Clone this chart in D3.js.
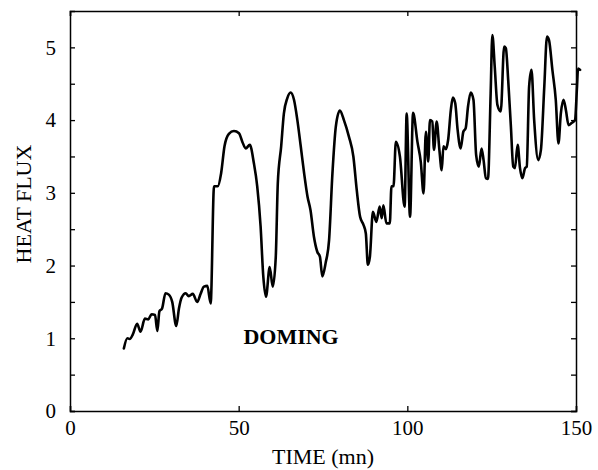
<!DOCTYPE html>
<html>
  <head>
    <meta charset="UTF-8" />
    <script src="https://cdn.jsdelivr.net/npm/d3@7"></script>
    <title>Heat flux</title>
    <style type="text/css">
      body { margin: 0; background: #fff; }
      text { font-family: "Liberation Serif", "Times New Roman", serif; }
    </style>
  </head>
  <body>
    <div id="chartcontainer"></div>
    <script>
      // time (mn) and heat flux
      var times = [
        15.96, 17.0, 17.7, 18.6, 19.9, 20.9, 22.2, 23.2, 24.2, 25.2, 25.9, 26.5, 27.3, 28.3, 29.3, 30.3,
        31.5, 32.3, 33.1, 34.3, 35.2, 36.4, 37.7, 38.7, 39.7, 40.7, 41.7, 42.7, 43.8, 44.8, 45.8, 47.1,
        48.6, 50.1, 51.1, 52.1, 53.3, 54.5, 55.5, 56.5, 57.3, 58.1, 59.2, 60.1, 61.0, 61.6, 62.6, 63.4,
        64.4, 65.4, 66.4, 67.4, 68.4, 69.4, 70.4, 71.3, 72.3, 73.3, 74.1, 74.8, 75.8, 76.8, 77.8, 78.8,
        80.0, 81.2, 82.7, 84.0, 85.0, 86.0, 87.0, 87.7, 88.3, 88.9, 89.8, 90.8, 91.8, 92.4, 92.9, 93.8,
        94.8, 95.3, 95.9, 96.6, 97.8, 99.2, 99.8, 100.8, 101.7, 103.0, 104.0, 104.8, 105.5, 106.2, 106.7, 107.4,
        107.9, 108.7, 109.5, 110.2, 110.7, 111.4, 112.1, 112.9, 113.5, 114.2, 114.9, 115.8, 116.6, 117.3, 118.0, 118.8,
        119.6, 120.4, 121.2, 122.0, 122.6, 123.3, 123.9, 124.7, 125.2, 125.9, 126.7, 127.7, 128.7, 129.2, 129.9, 130.7,
        131.4, 131.9, 132.7, 133.4, 134.1, 134.9, 135.4, 136.1, 136.8, 137.6, 138.8, 139.6, 140.6, 141.4, 142.0, 143.0,
        144.0, 144.8, 145.5, 146.3, 147.0, 147.8, 148.7, 149.7, 150.3, 150.6, 151.2
      ];
      var heatFlux = [
        0.86, 1.0, 0.99, 1.05, 1.20, 1.09, 1.27, 1.26, 1.33, 1.32, 1.10, 1.37, 1.41, 1.62, 1.60, 1.50,
        1.17, 1.41, 1.56, 1.62, 1.58, 1.61, 1.50, 1.61, 1.71, 1.72, 1.48, 3.09, 3.09, 3.27, 3.64, 3.81,
        3.85, 3.82, 3.70, 3.61, 3.66, 3.41, 3.09, 2.54, 1.85, 1.57, 1.98, 1.71, 2.12, 3.13, 3.64, 4.09,
        4.30, 4.38, 4.28, 4.00, 3.64, 3.27, 2.95, 2.76, 2.40, 2.19, 2.12, 1.85, 2.04, 2.35, 3.27, 3.91,
        4.13, 4.00, 3.77, 3.50, 3.04, 2.67, 2.56, 2.44, 2.01, 2.12, 2.74, 2.60, 2.81, 2.65, 2.83, 2.58,
        2.58, 3.09, 3.09, 3.70, 3.50, 2.81, 4.09, 2.67, 4.10, 3.70, 3.42, 2.99, 3.84, 3.43, 4.00, 3.98,
        3.59, 3.98, 3.59, 3.31, 3.64, 3.60, 3.73, 4.14, 4.31, 4.23, 3.87, 3.61, 3.84, 3.89, 4.19, 4.38,
        4.28, 3.52, 3.36, 3.61, 3.45, 3.20, 3.19, 4.37, 5.17, 4.74, 4.21, 4.12, 5.01, 4.99, 4.55, 3.91,
        3.36, 3.34, 3.66, 3.34, 3.20, 3.34, 3.36, 4.46, 4.69, 4.00, 3.45, 3.59, 4.46, 5.15, 5.10, 4.69,
        4.28, 3.68, 4.09, 4.28, 4.14, 3.93, 3.96, 4.00, 4.46, 4.71, 4.69
      ];
      var xTicks = [0, 50, 100, 150];
      var yTicks = [0, 0.5, 1, 1.5, 2, 2.5, 3, 3.5, 4, 4.5, 5];

      var data = times.map(function (t, i) {
        return { time: t, flux: heatFlux[i] };
      });

      var margin = { top: 11, right: 22, bottom: 59, left: 70 },
        width = 598 - margin.left - margin.right,
        height = 470 - margin.top - margin.bottom;

      var svg = d3
        .select("#chartcontainer")
        .append("svg")
        .attr("width", 598)
        .attr("height", 470)
        .append("g")
        .attr("transform", "translate(" + margin.left + "," + margin.top + ")");

      var x = d3.scaleLinear().domain([0, 150]).range([0, width]);
      var y = d3.scaleLinear().domain([0, 5.5]).range([height, 0]);

      function intLabel(d) {
        return d % 1 === 0 ? d3.format("d")(d) : "";
      }

      // bottom axis with labels, ticks pointing in
      var gx = svg
        .append("g")
        .attr("transform", "translate(0," + height + ")")
        .call(d3.axisBottom(x).tickValues(xTicks).tickSize(-5).tickPadding(9).tickFormat(d3.format("d")));
      // top axis, ticks only
      var gxt = svg
        .append("g")
        .call(d3.axisTop(x).tickValues(xTicks).tickSize(-5).tickFormat(""));
      // left axis
      var gy = svg
        .append("g")
        .call(d3.axisLeft(y).tickValues(yTicks).tickSize(-5).tickPadding(14).tickFormat(intLabel));
      // right axis, ticks only
      var gyr = svg
        .append("g")
        .attr("transform", "translate(" + width + ",0)")
        .call(d3.axisRight(y).tickValues(yTicks).tickSize(-5).tickFormat(""));

      [gx, gxt, gy, gyr].forEach(function (g) {
        g.selectAll(".domain").attr("stroke", "#000").attr("stroke-width", 1.5);
        g.selectAll(".tick line").attr("stroke", "#000").attr("stroke-width", 1.3);
        g.selectAll(".tick text")
          .attr("fill", "#000")
          .style("font-family", '"Liberation Serif", serif')
          .style("font-size", "21px");
      });

      svg
        .append("path")
        .datum(data)
        .attr("fill", "none")
        .attr("stroke", "#000")
        .attr("stroke-width", 2.6)
        .attr("stroke-linejoin", "round")
        .attr("stroke-linecap", "round")
        .attr(
          "d",
          d3
            .line()
            .curve(d3.curveMonotoneX)
            .x(function (d) {
              return x(d.time);
            })
            .y(function (d) {
              return y(d.flux);
            })
        );

      // annotation
      svg
        .append("text")
        .attr("x", x(51.4))
        .attr("y", y(0.92))
        .style("font-size", "22px")
        .style("font-weight", "bold")
        .text("DOMING");

      // axis titles
      svg
        .append("text")
        .attr("x", 323 - margin.left)
        .attr("y", height + 53)
        .attr("text-anchor", "middle")
        .style("font-size", "22px")
        .text("TIME (mn)");

      svg
        .append("text")
        .attr("transform", "translate(-39," + (height / 2 - 7) + ") rotate(-90)")
        .attr("text-anchor", "middle")
        .style("font-size", "22px")
        .text("HEAT FLUX");
    </script>
  </body>
</html>
